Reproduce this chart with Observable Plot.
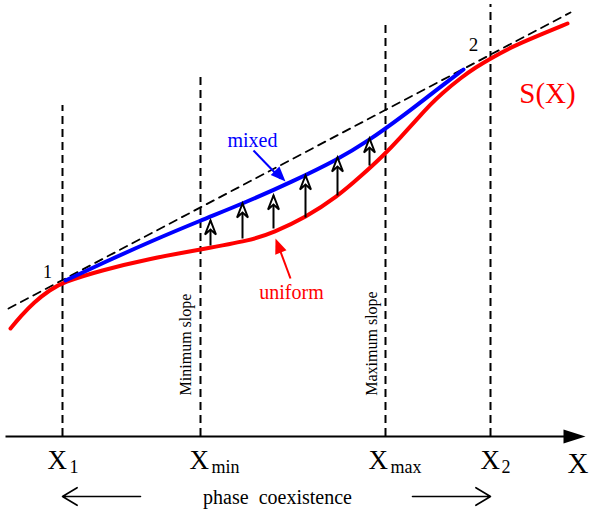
<!DOCTYPE html>
<html>
<head>
<meta charset="utf-8">
<script src="https://cdn.jsdelivr.net/npm/d3@7"></script>
<script src="https://cdn.jsdelivr.net/npm/@observablehq/plot@0.6"></script>
<style>
  html, body { margin: 0; padding: 0; background: #fff; }
  #chart svg { display: block; }
</style>
</head>
<body>
<div id="chart"></div>
<script>
// ---- data (schematic units: X horizontal, S vertical) ----
const redX = [10,20,33,50,62,100,150,200,250,273,305,337,360,383,400,417,430,440,462,475,490,510,533,567];
const redS = [185,197,211,224,231,243,255,264,273,281,296,317,337,358,376,395,409,419,437,446,455,466,476,490];

const blueX = [65,110,150,200,245,292,337,367,403,430,463];
const blueS = [233,254,272,293,311,332,354,372,398,419,444];

const tangentX = [8,570];
const tangentS = [205,501];

const vertX = [62,200,385,490];
const vertTop = [408,437,490,509];
const axisS = 77;
const axisFrom = 5, axisTo = 585;

const arrowX = [210,242,273,305,337,369];
const arrowFrom = [268,275,285,296,318,348];
const arrowTo = [293,310,318,338,356,375];

const tickLabelX = [47,189,368,480];
const tickSubX = [69,211,390,501];
const tickSubs = ["1","min","max","2"];

// helpers
const line2 = (xs, ys) => xs.map((x, i) => ({x, y: ys[i]}));
const redData = line2(redX, redS);
const blueData = line2(blueX, blueS);
const tangentData = line2(tangentX, tangentS);
const vertData = vertX.map((x, i) => ({x, y1: axisS, y2: vertTop[i]}));
const arrowData = arrowX.map((x, i) => ({x, y1: arrowFrom[i], y2: arrowTo[i]}));

// arrowhead symbols (tip at origin, pointing up before rotation)
function headSymbol(L, w, notch) {
  return {draw(ctx) {
    ctx.moveTo(0, 0); ctx.lineTo(-w, L);
    if (notch) ctx.lineTo(0, L - notch);
    ctx.lineTo(w, L); ctx.closePath();
  }};
}
const bigHead = headSymbol(22, 7, 0);
const smallHead = headSymbol(15, 6, 0);
const notchHead = headSymbol(14, 5.5, 5);

const font = "Liberation Serif";

const chart = Plot.plot({
  width: 592,
  height: 513,
  margin: 0,
  x: {domain: [0, 592], axis: null},
  y: {domain: [0, 513], axis: null},
  style: {fontFamily: font, background: "#fff"},
  marks: [
    // vertical dashed lines
    Plot.ruleX(vertData, {x: "x", y1: "y1", y2: "y2", stroke: "black", strokeWidth: 2, strokeDasharray: "8,5"}),
    // tangent dashed line
    Plot.line(tangentData, {x: "x", y: "y", stroke: "black", strokeWidth: 1.8, strokeDasharray: "8,6"}),
    // axis
    Plot.link([{x1: axisFrom, x2: axisTo - 20, y: axisS}], {x1: "x1", x2: "x2", y1: "y", y2: "y", stroke: "black", strokeWidth: 2}),
    Plot.dot([{x: axisTo, y: axisS}], {x: "x", y: "y", symbol: bigHead, rotate: 90, fill: "black", stroke: "none"}),
    // S(X) uniform curve
    Plot.line(redData, {x: "x", y: "y", stroke: "#ff0000", strokeWidth: 4, curve: "basis"}),
    // mixed
    Plot.line(blueData, {x: "x", y: "y", stroke: "#0000ff", strokeWidth: 4, curve: "basis"}),
    // upward arrows
    Plot.link(arrowData, {x1: "x", x2: "x", y1: "y1", y2: "y2", stroke: "black", strokeWidth: 2}),
    Plot.dot(arrowData, {x: "x", y: "y2", symbol: notchHead, fill: "white", stroke: "black", strokeWidth: 2, strokeLinejoin: "miter"}),
    // label arrows
    Plot.link([{x1: 253, y1: 363, x2: 280, y2: 335}], {x1: "x1", y1: "y1", x2: "x2", y2: "y2", stroke: "#0000ff", strokeWidth: 2}),
    Plot.dot([{x: 285, y: 332}], {x: "x", y: "y", symbol: smallHead, rotate: 136, fill: "#0000ff", stroke: "none"}),
    Plot.link([{x1: 290, y1: 235, x2: 277, y2: 270}], {x1: "x1", y1: "y1", x2: "x2", y2: "y2", stroke: "#ff0000", strokeWidth: 2}),
    Plot.dot([{x: 275, y: 275}], {x: "x", y: "y", symbol: smallHead, rotate: -21, fill: "#ff0000", stroke: "none"}),
    // phase coexistence arrows
    Plot.arrow([{x1: 140, x2: 62, y: 17}, {x1: 412, x2: 490, y: 17}], {x1: "x1", x2: "x2", y1: "y", y2: "y", stroke: "black", strokeWidth: 1.6, headLength: 16, headAngle: 62}),
    // tick labels
    Plot.text(tickLabelX, {x: d => d, y: 45, text: () => "X", textAnchor: "start", lineAnchor: "bottom", fontSize: 27, fill: "black"}),
    Plot.text(tickSubs, {x: (d, i) => tickSubX[i], y: 41, text: d => d, textAnchor: "start", lineAnchor: "bottom", fontSize: 18, fill: "black"}),
    Plot.text(["X"], {x: 567, y: 41, text: d => d, textAnchor: "start", lineAnchor: "bottom", fontSize: 29, fill: "black"}),
    Plot.text(["phase\u00a0 coexistence"], {x: 277, y: 10, text: d => d, lineAnchor: "bottom", fontSize: 20, fill: "black"}),
    Plot.text(["Minimum slope"], {x: 185, y: 169, text: d => d, rotate: -90, fontSize: 16, fill: "black"}),
    Plot.text(["Maximum slope"], {x: 371, y: 170, text: d => d, rotate: -90, fontSize: 16, fill: "black"}),
    Plot.text(["mixed"], {x: 252, y: 367, text: d => d, lineAnchor: "bottom", fontSize: 20, fill: "#0000ff"}),
    Plot.text(["uniform"], {x: 291, y: 215, text: d => d, lineAnchor: "bottom", fontSize: 20, fill: "#ff0000"}),
    Plot.text(["S(X)"], {x: 547, y: 411, text: d => d, lineAnchor: "bottom", fontSize: 29, fill: "#ff0000"}),
    Plot.text(["1"], {x: 47, y: 236, text: d => d, lineAnchor: "bottom", fontSize: 18, fill: "black"}),
    Plot.text(["2"], {x: 473, y: 463, text: d => d, lineAnchor: "bottom", fontSize: 19, fill: "black"})
  ]
});
document.getElementById("chart").appendChild(chart);
</script>
</body>
</html>
